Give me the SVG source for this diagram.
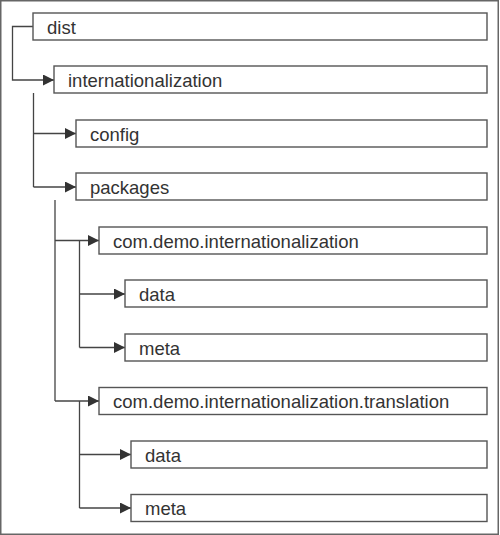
<svg xmlns="http://www.w3.org/2000/svg" width="500" height="535" viewBox="0 0 500 535">
<style>
.box{fill:#fff;stroke:#555;stroke-width:1.4}
.lbl{font-family:"Liberation Sans",Arial,sans-serif;font-size:18.5px;fill:#333}
.con{fill:none;stroke:#444;stroke-width:1.3}
</style>
<defs>
<marker id="ah" markerUnits="userSpaceOnUse" markerWidth="12" markerHeight="12" refX="11" refY="5.5" orient="auto">
<path d="M0,0 L11,5.5 L0,11 z" fill="#333"/>
</marker>
</defs>
<rect x="0.75" y="0.75" width="497.5" height="533.5" fill="#fff" stroke="#666" stroke-width="1.5"/>
<g id="connectors">
<path class="con" d="M33,26.5 H12.5 V80 H54" marker-end="url(#ah)"/>
<path class="con" d="M33.5,93 V187 M33.5,133.5 H76" marker-end="url(#ah)"/>
<path class="con" d="M33.5,187 H76" marker-end="url(#ah)"/>
<path class="con" d="M55,200 V401 M55,240.5 H99" marker-end="url(#ah)"/>
<path class="con" d="M55,401 H99" marker-end="url(#ah)"/>
<path class="con" d="M79.5,240.5 V347.5 M79.5,294 H125" marker-end="url(#ah)"/>
<path class="con" d="M79.5,347.5 H125" marker-end="url(#ah)"/>
<path class="con" d="M79.5,401 V508 M79.5,454.5 H131" marker-end="url(#ah)"/>
<path class="con" d="M79.5,508 H131" marker-end="url(#ah)"/>
</g>
<g id="dist"><rect class="box" x="33" y="13" width="454" height="27"/><text class="lbl" x="47" y="33.5">dist</text></g>
<g id="internationalization"><rect class="box" x="54" y="66" width="433" height="27"/><text class="lbl" x="68" y="86.5">internationalization</text></g>
<g id="config"><rect class="box" x="76" y="120" width="411" height="27"/><text class="lbl" x="90" y="140.5">config</text></g>
<g id="packages"><rect class="box" x="76" y="173" width="411" height="27"/><text class="lbl" x="90" y="193.5">packages</text></g>
<g id="pkg1"><rect class="box" x="99" y="227" width="388" height="27"/><text class="lbl" x="113" y="247.5">com.demo.internationalization</text></g>
<g id="pkg1-data"><rect class="box" x="125" y="280" width="362" height="27"/><text class="lbl" x="139" y="300.5">data</text></g>
<g id="pkg1-meta"><rect class="box" x="125" y="334" width="362" height="27"/><text class="lbl" x="139" y="354.5">meta</text></g>
<g id="pkg2"><rect class="box" x="99" y="387.5" width="388" height="27"/><text class="lbl" x="113" y="408">com.demo.internationalization.translation</text></g>
<g id="pkg2-data"><rect class="box" x="131" y="441" width="356" height="27"/><text class="lbl" x="145" y="461.5">data</text></g>
<g id="pkg2-meta"><rect class="box" x="131" y="494.5" width="356" height="27"/><text class="lbl" x="145" y="515">meta</text></g>
</svg>
